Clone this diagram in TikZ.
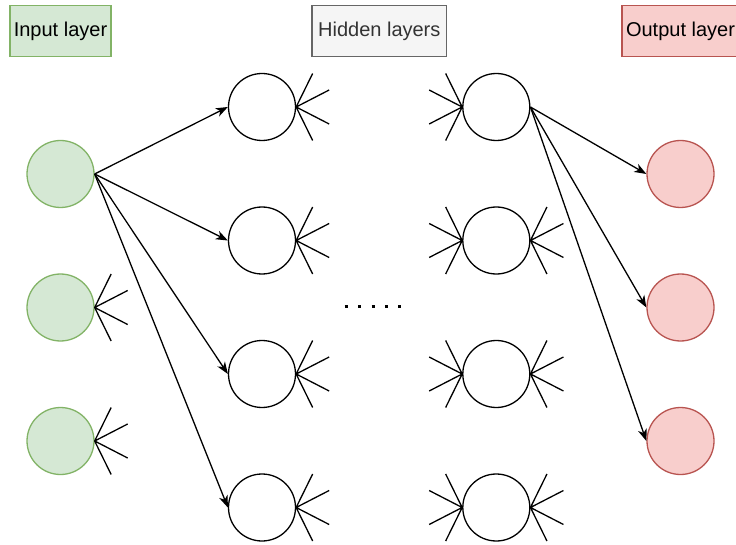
\documentclass[tikz,border=0pt]{standalone}
\usepackage{fontspec}
\setmainfont{Liberation Sans}
\usetikzlibrary{arrows.meta}
\definecolor{ingreen}{HTML}{D5E8D4}
\definecolor{ingreenline}{HTML}{82B366}
\definecolor{outred}{HTML}{F8CECC}
\definecolor{outredline}{HTML}{B85450}
\definecolor{hidgray}{HTML}{F5F5F5}
\definecolor{hidgrayline}{HTML}{666666}
\definecolor{hidtext}{HTML}{333333}
\tikzset{
  neuron/.style={circle, draw=black, line width=1.3pt, minimum size=67pt, inner sep=0pt},
  inneuron/.style={neuron, draw=ingreenline, fill=ingreen},
  outneuron/.style={neuron, draw=outredline, fill=outred},
  title/.style={draw, line width=1.3pt, inner sep=0pt, minimum height=51pt,
    font=\fontsize{20pt}{24pt}\selectfont},
  link/.style={line width=1.3pt, -{Stealth[length=12pt, width=9pt, inset=3.5pt]}},
  fan/.style={line width=1.3pt}
}
% four short stubs leaving a neuron to the right or to the left
\newcommand{\fanright}[1]{%
  \draw[fan] (#1.east) -- ++(16.5,-33.5) (#1.east) -- ++(33,-17)
             (#1.east) -- ++(33,17) (#1.east) -- ++(16.5,33.5);}
\newcommand{\fanleft}[1]{%
  \draw[fan] (#1.west) -- ++(-16.5,-33.5) (#1.west) -- ++(-33,-17)
             (#1.west) -- ++(-33,17) (#1.west) -- ++(-16.5,33.5);}
\begin{document}
\begin{tikzpicture}[x=1pt, y=-1pt]
\useasboundingbox (0,0) rectangle (736,545);
\begin{scope}
\clip (0,0) rectangle (736,545);
% layer titles
\node[title, draw=ingreenline, fill=ingreen, minimum width=101pt] (tin) at (60.5,31.3) {Input layer};
\node[title, draw=hidgrayline, fill=hidgray, text=hidtext, minimum width=134.5pt] (thid) at (379.3,31.3) {Hidden layers};
\node[title, draw=outredline, fill=outred, minimum width=117pt] (tout) at (680.5,31.3) {Output layer};

% input layer
\node[inneuron] (i1) at (60.5,174) {};
\node[inneuron] (i2) at (60.5,307.5) {};
\node[inneuron] (i3) at (60.5,441) {};

% first hidden layer
\node[neuron] (a1) at (262,107) {};
\node[neuron] (a2) at (262,240.5) {};
\node[neuron] (a3) at (262,374) {};
\node[neuron] (a4) at (262,507.5) {};

% last hidden layer
\node[neuron] (b1) at (496.3,107) {};
\node[neuron] (b2) at (496.3,240.5) {};
\node[neuron] (b3) at (496.3,374) {};
\node[neuron] (b4) at (496.3,507.5) {};

% output layer
\node[outneuron] (o1) at (680.5,174) {};
\node[outneuron] (o2) at (680.5,307.5) {};
\node[outneuron] (o3) at (680.5,441) {};

% connections
\foreach \t in {a1,a2,a3,a4} \draw[link] (i1.east) -- (\t.west);
\foreach \t in {o1,o2,o3} \draw[link] (b1.east) -- (\t.west);

% stubs hinting at further connections
\fanright{i2} \fanright{i3}
\fanright{a1} \fanright{a2} \fanright{a3} \fanright{a4}
\fanleft{b1} \fanleft{b2} \fanleft{b3} \fanleft{b4}
\fanright{b2} \fanright{b3} \fanright{b4}

% ellipsis between the hidden layers
\coordinate (d0) at (344.7,306);
\coordinate (d1) at (402,306);
\draw[line width=3pt, dash pattern=on 3pt off 10.4pt] (d0) -- (d1);
\end{scope}
\end{tikzpicture}
\end{document}
